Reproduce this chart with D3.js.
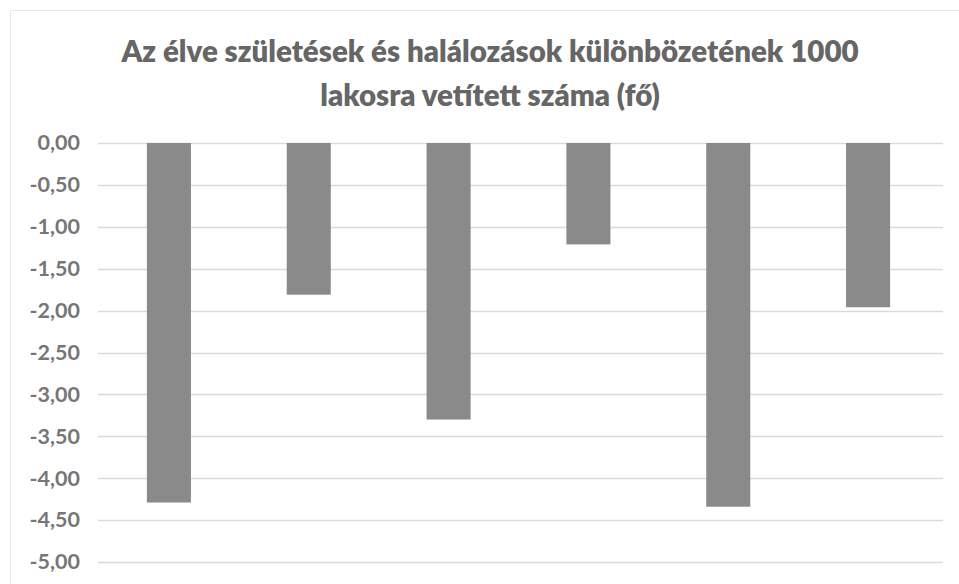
<!DOCTYPE html>
<html><head><meta charset="utf-8">
<script src="https://cdn.jsdelivr.net/npm/d3@7"></script>
<style>body{margin:0;background:#fff;}svg{display:block;}</style>
</head><body>
<script>
const categories = ["1", "2", "3", "4", "5", "6"];
const values = [-4.29, -1.81, -3.30, -1.21, -4.34, -1.96];
const tickValues = [0, -0.5, -1, -1.5, -2, -2.5, -3, -3.5, -4, -4.5, -5];
const titleLines = ["Az élve születések és halálozások különbözetének 1000", "lakosra vetített száma (fő)"];

const W = 959, H = 584;
const svg = d3.select("body").append("svg").attr("width", W).attr("height", H);
svg.append("rect").attr("x", 10.5).attr("y", 10.5).attr("width", W + 10).attr("height", H + 10)
  .attr("fill", "#fff").attr("stroke", "#e6e6e6");

const y = d3.scaleLinear().domain([0, -5]).range([143, 562]);
const x = d3.scaleBand().domain(categories).range([99, 938]).paddingInner(0.685).paddingOuter(0.3425);

const font = "Lato, 'Open Sans', sans-serif";
svg.append("g").selectAll("line").data(tickValues).join("line")
  .attr("x1", 98).attr("x2", 943)
  .attr("y1", d => Math.round(y(d)) + 0.5).attr("y2", d => Math.round(y(d)) + 0.5)
  .attr("stroke", "#d9d9d9").attr("stroke-width", 1.3);

const fmt = d => d3.format(".2f")(d).replace(".", ",").replace("−", "-");
const yAxis = d3.axisLeft(y).tickValues(tickValues).tickSize(0).tickPadding(0).tickFormat(fmt);
const gy = svg.append("g").attr("transform", "translate(80,0)").call(yAxis);
gy.select(".domain").remove();
gy.selectAll("text").attr("font-family", font).attr("font-size", 21.5).attr("font-weight", 700).attr("fill", "#767676");

svg.append("g").selectAll("rect").data(values).join("rect")
  .attr("x", (d, i) => x(categories[i])).attr("width", x.bandwidth())
  .attr("y", d => y(Math.max(0, d))).attr("height", d => Math.abs(y(d) - y(0)))
  .attr("fill", "#8a8a8a");

svg.append("g").selectAll("text").data(titleLines).join("text")
  .attr("x", 490).attr("y", (d, i) => 62 + i * 43.5)
  .attr("text-anchor", "middle").attr("font-family", font).attr("font-weight", 800)
  .attr("font-size", 29.5).attr("fill", "#666").text(d => d);
</script>
</body></html>
